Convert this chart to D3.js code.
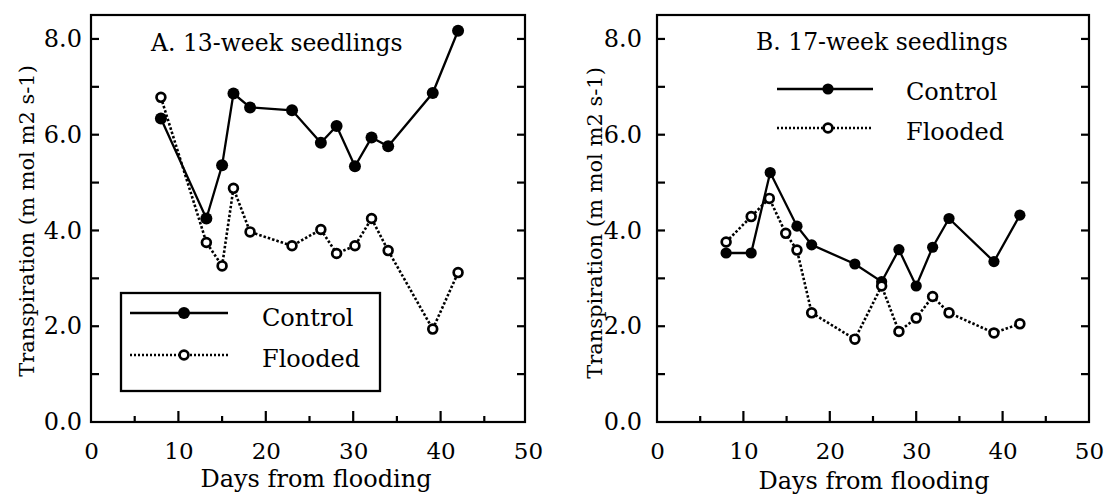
<!DOCTYPE html>
<html><head><meta charset="utf-8">
<script src="https://cdn.jsdelivr.net/npm/d3@7"></script>
<style>
html,body{margin:0;padding:0;background:#fff;}
svg text{font-family:"DejaVu Serif",serif;fill:#000;}
</style></head>
<body><svg id="chart" width="1105" height="496"></svg>
<script>
// ---- data ----
const xTicks = [0, 10, 20, 30, 40, 50];
const xMinorTicks = [5, 15, 25, 35, 45];
const yTicks = [0, 2, 4, 6, 8];
const yAllTicks = [1, 2, 3, 4, 5, 6, 7, 8];
const seriesNames = ["Control", "Flooded"];
const titleA = "A. 13-week seedlings";
const titleB = "B. 17-week seedlings";
const xLabel = "Days from flooding";
const yLabel = "Transpiration (m mol m2 s-1)";

const aControlDays   = [8, 13.2, 15, 16.3, 18.2, 23, 26.3, 28.1, 30.2, 32.1, 34, 39.1, 42];
const aControlValues = [6.34, 4.25, 5.36, 6.86, 6.57, 6.51, 5.83, 6.18, 5.34, 5.94, 5.76, 6.87, 8.17];
const aFloodedDays   = [8, 13.2, 15, 16.3, 18.2, 23, 26.3, 28.1, 30.2, 32.1, 34, 39.1, 42];
const aFloodedValues = [6.78, 3.75, 3.26, 4.88, 3.97, 3.68, 4.02, 3.52, 3.68, 4.25, 3.58, 1.94, 3.12];

const bControlDays   = [8, 10.9, 13.1, 16.2, 17.9, 22.9, 26, 28, 30, 31.9, 33.8, 39, 42];
const bControlValues = [3.53, 3.53, 5.21, 4.09, 3.70, 3.30, 2.93, 3.60, 2.84, 3.65, 4.25, 3.35, 4.32];
const bFloodedDays   = [8, 10.9, 13, 14.9, 16.2, 17.9, 22.9, 26, 28, 30, 31.9, 33.8, 39, 42];
const bFloodedValues = [3.76, 4.29, 4.67, 3.94, 3.59, 2.28, 1.73, 2.84, 1.89, 2.17, 2.62, 2.28, 1.86, 2.05];

const svg = d3.select("#chart");
const FS = "24px";
const TFS = "23px";

function zip(xs, ys){ return xs.map((d,i)=>({x:d, y:ys[i]})); }

function drawPanel(cfg){
  const g = svg.append("g");
  const x = d3.scaleLinear().domain([0,50]).range([cfg.left, cfg.xEnd]);
  const y = d3.scaleLinear().domain([0,8.5]).range([cfg.bottom, cfg.top]);

  // frame
  g.append("rect").attr("x", cfg.left).attr("y", cfg.top)
    .attr("width", cfg.frameRight - cfg.left).attr("height", cfg.bottom - cfg.top)
    .attr("fill","none").attr("stroke","#000").attr("stroke-width",2.2);

  // bottom axis (ticks inward)
  const xAxis = d3.axisBottom(x).tickValues(xTicks).tickSize(0).tickPadding(0)
    .tickFormat(d3.format("d"));
  const xa = g.append("g").attr("transform",`translate(0,${cfg.bottom})`).call(xAxis);
  xa.select(".domain").remove();
  xa.selectAll("text").attr("y", 37).attr("dy", null).style("font-size",TFS)
    .style("font-family","DejaVu Serif");
  g.selectAll(".xmaj").data(xTicks.filter(d=>d>0 && d<50)).join("line")
    .attr("x1",d=>x(d)).attr("x2",d=>x(d)).attr("y1",cfg.bottom).attr("y2",cfg.bottom-11)
    .attr("stroke","#000").attr("stroke-width",2.2);
  g.selectAll(".xmin").data(xMinorTicks).join("line")
    .attr("x1",d=>x(d)).attr("x2",d=>x(d)).attr("y1",cfg.bottom).attr("y2",cfg.bottom-6)
    .attr("stroke","#000").attr("stroke-width",2.2);

  // left axis
  const yAxis = d3.axisLeft(y).tickValues(yTicks).tickSize(0).tickPadding(cfg.yPad)
    .tickFormat(d3.format(".1f"));
  const ya = g.append("g").attr("transform",`translate(${cfg.left},0)`).call(yAxis);
  ya.select(".domain").remove();
  ya.selectAll("text").style("font-size",FS).style("font-family","DejaVu Serif");
  g.selectAll(".yl").data(yAllTicks).join("line")
    .attr("x1",cfg.left).attr("x2",cfg.left+8).attr("y1",d=>y(d)).attr("y2",d=>y(d))
    .attr("stroke","#000").attr("stroke-width",2.2);
  g.selectAll(".yr").data(yAllTicks).join("line")
    .attr("x1",cfg.frameRight).attr("x2",cfg.frameRight-8).attr("y1",d=>y(d)).attr("y2",d=>y(d))
    .attr("stroke","#000").attr("stroke-width",2.2);

  // labels
  g.append("text").attr("x",cfg.xLabelX).attr("y",cfg.xLabelY)
    .attr("text-anchor","middle").style("font-size",FS).text(xLabel);
  g.append("text").attr("transform",`translate(${cfg.yLabelX},${cfg.yLabelCY}) rotate(-90)`)
    .attr("text-anchor","middle").attr("dy","0.35em").style("font-size","21px").text(yLabel);
  g.append("text").attr("x",cfg.titleX).attr("y",cfg.titleY).attr("dy","0.35em")
    .style("font-size","23.5px").text(cfg.title);

  const line = d3.line().x(d=>x(d.x)).y(d=>y(d.y));
  const ctrl = zip(cfg.cDays, cfg.cVals), fl = zip(cfg.fDays, cfg.fVals);

  g.append("path").datum(fl).attr("d",line).attr("fill","none").attr("stroke","#000")
    .attr("stroke-width",2.6).attr("stroke-dasharray","2.5,2");
  g.append("path").datum(ctrl).attr("d",line).attr("fill","none").attr("stroke","#000")
    .attr("stroke-width",2.3);
  g.selectAll(".cp").data(ctrl).join("circle").attr("cx",d=>x(d.x)).attr("cy",d=>y(d.y))
    .attr("r",cfg.rFill).attr("fill","#000");
  g.selectAll(".fp").data(fl).join("circle").attr("cx",d=>x(d.x)).attr("cy",d=>y(d.y))
    .attr("r",4.4).attr("fill","#fff").attr("stroke","#000").attr("stroke-width",2.7);

  // legend
  const L = cfg.legend;
  if (L.box) {
    g.append("rect").attr("x",L.box[0]).attr("y",L.box[1]).attr("width",L.box[2]).attr("height",L.box[3])
      .attr("fill","#fff").attr("stroke","#000").attr("stroke-width",2.3);
  }
  seriesNames.forEach((name,i)=>{
    const yy = L.ys[i];
    g.append("line").attr("x1",L.x1).attr("x2",L.x2).attr("y1",yy).attr("y2",yy)
      .attr("stroke","#000").attr("stroke-width", i===0?2.3:2.4)
      .attr("stroke-dasharray", i===0?null:"2,2");
    if (i===0) g.append("circle").attr("cx",L.mx).attr("cy",yy).attr("r",cfg.rFill).attr("fill","#000");
    else g.append("circle").attr("cx",L.mx).attr("cy",yy).attr("r",4.4).attr("fill","#fff")
      .attr("stroke","#000").attr("stroke-width",2.7);
    g.append("text").attr("x",L.tx).attr("y",L.tys[i]).attr("dy","0.35em")
      .style("font-size",FS).text(name);
  });
}

drawPanel({
  left:91, xEnd:528, frameRight:525, top:15, bottom:422, yPad:9,
  xLabelX:316, xLabelY:487, yLabelX:27, yLabelCY:221, titleX:151, titleY:43, title:titleA, rFill:6,
  cDays:aControlDays, cVals:aControlValues, fDays:aFloodedDays, fVals:aFloodedValues,
  legend:{box:[121,293,259,98], x1:130, x2:228, mx:184, ys:[313,355], tx:262, tys:[318,359]}
});
drawPanel({
  left:657, xEnd:1089, frameRight:1089, top:15, bottom:422, yPad:15,
  xLabelX:874, xLabelY:489, yLabelX:595, yLabelCY:223, titleX:756, titleY:42, title:titleB, rFill:5.6,
  cDays:bControlDays, cVals:bControlValues, fDays:bFloodedDays, fVals:bFloodedValues,
  legend:{box:null, x1:777, x2:873, mx:828, ys:[89,128], tx:906, tys:[92,132]}
});
</script></body></html>
